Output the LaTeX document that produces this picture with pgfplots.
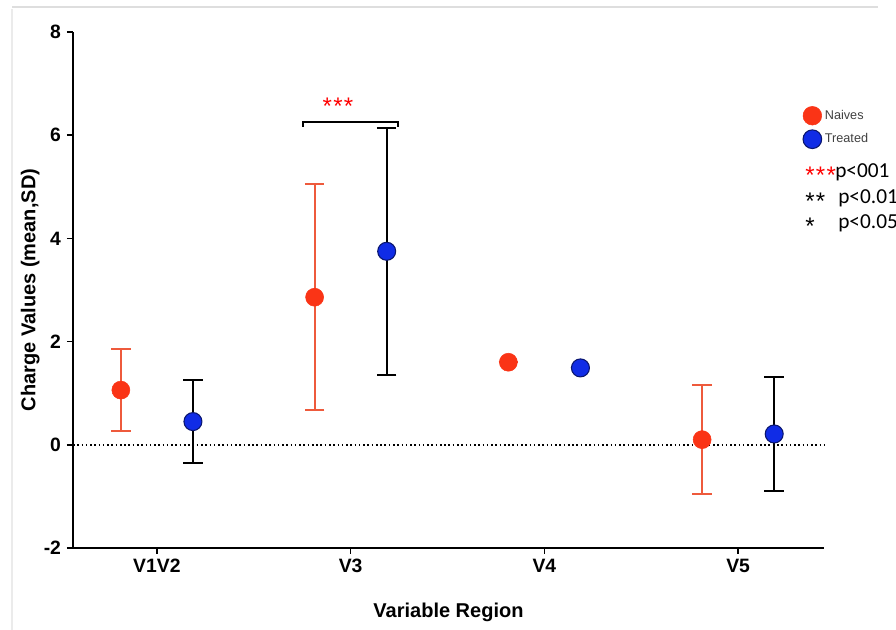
\documentclass[border=0pt]{standalone}
\usepackage{pgfplots}
\pgfplotsset{compat=1.18}
\usepackage{fontspec}
\setmainfont{Liberation Sans}
\newfontfamily\calib{Carlito}
\definecolor{naiveRed}{RGB}{250,52,22}
\definecolor{naiveErr}{RGB}{238,90,60}
\definecolor{treatBlue}{RGB}{16,44,230}
\definecolor{treatEdge}{RGB}{10,22,110}
\definecolor{frameGray}{RGB}{222,222,222}
\begin{document}
\begin{tikzpicture}[x=0.75pt,y=0.75pt]
\useasboundingbox (0,0) rectangle (896,630);
\draw[frameGray, line width=1.5pt] (12,623) -- (878,623);
\draw[frameGray!60, line width=0.8pt] (12,621) -- (12,0);
\begin{axis}[
  at={(54.75pt,61.5pt)}, anchor=south west,
  scale only axis, width=563.25pt, height=387pt,
  xmin=0.567, xmax=4.443, ymin=-2, ymax=8,
  axis lines=left, axis line style={-, line width=1.5pt},
  xtick={1,2,3,4}, xticklabels={V1V2,V3,V4,V5},
  ytick={-2,0,2,4,6,8},
  tick align=outside, major tick length=4.5pt,
  tick style={line width=1.2pt, black},
  /pgf/number format/assume math mode=true,
  ticklabel style={font=\bfseries\fontsize{14.5}{14.5}\selectfont},
  yticklabel style={xshift=-1pt},
  xlabel={Variable Region}, ylabel={Charge Values (mean,SD)},
  label style={font=\bfseries\fontsize{15}{15}\selectfont},
  xlabel style={at={(axis description cs:0.5,-0.124)}, anchor=center},
  ylabel style={at={(axis description cs:-0.057,0.5)}, anchor=center, rotate=0},
  clip=false,
  legend style={draw=none, fill=none, at={(axis cs:4.31,6.62)}, anchor=north west,
    font=\fontsize{9.5}{10}\selectfont, text=black!75, row sep=3pt,
    legend cell align=left},
  legend image code/.code={\draw[#1] (0.25cm,0cm) circle (7pt);},
]
\draw[black, line width=1.2pt, dotted] (axis cs:0.567,0) -- (axis cs:4.443,0);
\addplot[only marks, mark=*, mark size=6.75pt, draw=naiveRed, fill=naiveRed,
  error bars/.cd, y dir=both, y explicit,
  error bar style={color=naiveErr, line width=1.5pt},
  error mark options={color=naiveErr, line width=1.5pt, mark size=7.3pt, rotate=90}]
  coordinates {
    (0.814,1.06) +- (0,0.80)
    (1.814,2.86) +- (0,2.19)
    (2.814,1.60) +- (0,0)
    (3.814,0.10) +- (0,1.05)
  };
\addlegendentry{Naives}
\addplot[only marks, mark=*, mark size=6.75pt, draw=treatEdge, fill=treatBlue, line width=0.8pt,
  error bars/.cd, y dir=both, y explicit,
  error bar style={color=black, line width=1.5pt},
  error mark options={color=black, line width=1.5pt, mark size=7.3pt, rotate=90}]
  coordinates {
    (1.186,0.45) +- (0,0.81)
    (2.186,3.75) +- (0,2.39)
    (3.186,1.49) +- (0,0)
    (4.186,0.21) +- (0,1.10)
  };
\addlegendentry{Treated}
\end{axis}
\draw[black, line width=1.5pt] (303,503) -- (303,508) -- (398,508) -- (398,503);
\node[text=red, font=\fontsize{18}{18}\selectfont] at (338,524) {*\kern1pt*\kern1pt*};
\node[anchor=west, inner sep=0, text=red, font=\fontsize{18}{18}\selectfont] at (805,455) {*\kern1pt*\kern1pt*};
\node[anchor=west, inner sep=0, font=\calib\fontsize{16}{16}\selectfont] at (835,458) {p<001};
\node[anchor=west, inner sep=0, font=\fontsize{18}{18}\selectfont] at (805,429) {*\kern1pt*};
\node[anchor=west, inner sep=0, font=\calib\fontsize{16}{16}\selectfont] at (838,432) {p<0.01};
\node[anchor=west, inner sep=0, font=\fontsize{18}{18}\selectfont] at (805,404) {*};
\node[anchor=west, inner sep=0, font=\calib\fontsize{16}{16}\selectfont] at (838,407) {p<0.05};
\end{tikzpicture}
\end{document}
